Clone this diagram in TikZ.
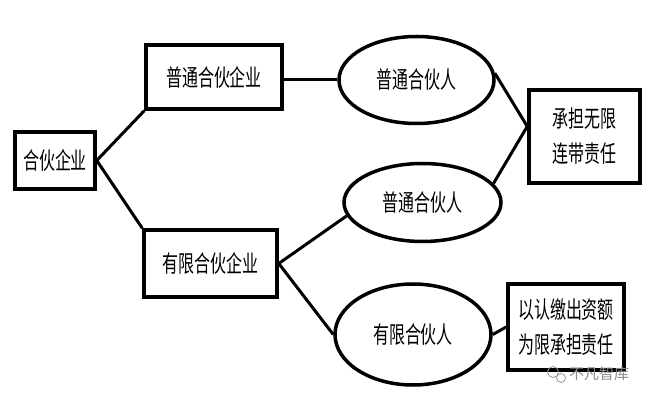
\documentclass[tikz,border=0pt]{standalone}
\usepackage{fontspec}
\newfontfamily\cjk{Noto Sans CJK SC}
\newcommand\cnnarrow[1]{\scalebox{0.68}[1]{#1}}
\usetikzlibrary{shapes.geometric}
\begin{document}
\begin{tikzpicture}[x=1pt,y=-1pt,
  box/.style={draw, rectangle, line width=3.5pt, inner sep=0pt},
  ell/.style={draw, ellipse, line width=3.5pt, inner sep=0pt},
  conn/.style={line width=3pt},
  lbl/.style={font=\cjk\fontsize{23.5}{35}\selectfont, align=center}]
\useasboundingbox[fill=white] (0,0) rectangle (672,403);
% boxes
\node[box, lbl, minimum width=80pt, minimum height=57pt] (hh) at (55,160.5) {\cnnarrow{合伙企业}};
\node[box, lbl, minimum width=136pt, minimum height=64pt] (pt) at (214,77) {\cnnarrow{普通合伙企业}};
\node[box, lbl, minimum width=133pt, minimum height=67pt] (yx) at (210.5,263.5) {\cnnarrow{有限合伙企业}};
% ellipses
\node[ell, lbl, minimum width=155pt, minimum height=87pt] (e1) at (416.5,80) {\cnnarrow{普通合伙人}};
\node[ell, lbl, minimum width=157pt, minimum height=78pt] (e2) at (422.5,202.5) {\cnnarrow{普通合伙人}};
\node[ell, lbl, minimum width=156pt, minimum height=101pt] (e3) at (413,334.5) {\cnnarrow{有限合伙人}};
% result boxes
\node[box, lbl, minimum width=111pt, minimum height=93pt] (b1) at (584.5,136.5) {\cnnarrow{承担无限}\\\cnnarrow{连带责任}};
\node[box, lbl, minimum width=116pt, minimum height=86pt] (b2) at (566,327) {\cnnarrow{以认缴出资额}\\\cnnarrow{为限承担责任}};
% connectors
\draw[conn] (hh.east) -- (pt.south west);
\draw[conn] (hh.east) -- (yx.north west);
\draw[conn] (e1.west -| pt.east) -- (e1.west);
\draw[conn] (e1.5) -- (b1.170);
\draw[conn] (e2.15) -- (b1.170);
\draw[conn] (yx.east) -- (e2.190);
\draw[conn] (yx.east) -- (e3.west);
\draw[conn] (e3.east) -- (b2.west);
% watermark
\node[draw=gray!80, line width=0.8pt, circle, inner sep=0pt, minimum size=11pt] (wi1) at (553,372) {};
\node[draw=gray!80, line width=0.8pt, circle, inner sep=0pt, minimum size=9pt, fill=white] (wi2) at (561,378) {};
\node[font=\cjk\fontsize{15}{15}\selectfont, text=gray!90, anchor=west, inner sep=0pt] (wm) at (569,374) {不凡智库};
\end{tikzpicture}
\end{document}
